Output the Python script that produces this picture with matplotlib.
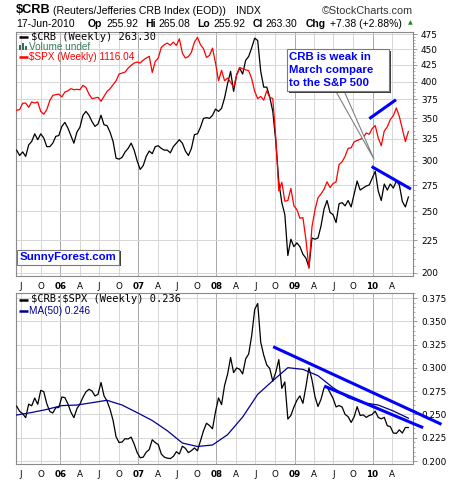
import numpy as np
import pandas as pd
import matplotlib
matplotlib.use('Agg')
import matplotlib.pyplot as plt
from matplotlib.ticker import FixedLocator, FuncFormatter
from matplotlib.patches import Rectangle
from matplotlib.lines import Line2D

W, H = 460, 482

# ---------------- data (bi-weekly samples) ----------------
start_date = '2005-06-10'
end_date = '2010-06-18'

crb = [312, 306, 310, 305, 318, 322, 331, 324, 331, 326,
       316, 316, 320, 328, 329, 340, 345, 338, 329, 320,
       333, 339, 354, 359, 354, 346, 340, 343, 354, 342,
       341, 333, 322, 303, 302, 304, 310, 314, 320, 312,
       300, 291, 295, 305, 311, 308, 316, 317, 314, 312,
       312, 309, 316, 320, 324, 320, 311, 306, 314, 330,
       331, 339, 350, 351, 350, 354, 362, 359, 363, 377,
       397, 415, 386, 410, 420, 411, 432, 438, 452, 468,
       464, 415, 392, 392, 378, 359, 322, 278, 258, 247,
       213, 226, 220, 223, 220, 214, 211, 204, 227, 226,
       227, 237, 252, 260, 249, 247, 240, 257, 258, 255,
       260, 254, 266, 279, 270, 272, 274, 275, 282, 289,
       269, 260, 276, 270, 276, 272, 279, 275, 259, 254,
       263.30]

spx = [1205, 1208, 1236, 1237, 1218, 1242, 1237, 1242, 1200, 1188,
       1208, 1248, 1272, 1275, 1278, 1265, 1287, 1293, 1303, 1298,
       1300, 1298, 1319, 1309, 1278, 1257, 1260, 1263, 1245, 1267,
       1290, 1303, 1322, 1341, 1374, 1379, 1384, 1404, 1418, 1430,
       1435, 1430, 1445, 1456, 1465, 1382, 1438, 1456, 1513, 1528,
       1537, 1525, 1542, 1524, 1561, 1482, 1456, 1464, 1487, 1542,
       1569, 1528, 1506, 1459, 1470, 1509, 1430, 1341, 1393, 1341,
       1354, 1334, 1309, 1367, 1407, 1400, 1395, 1391, 1351, 1290,
       1257, 1267, 1250, 1293, 1263, 1257, 1090, 900, 928, 867,
       869, 908, 853, 841, 815, 817, 754, 680, 790, 840,
       878, 890, 905, 930, 911, 924, 930, 990, 1000, 1020,
       1050, 1052, 1075, 1080, 1085, 1090, 1110, 1105, 1128, 1140,
       1090, 1060, 1118, 1135, 1165, 1182, 1215, 1178, 1126, 1076,
       1116.04]

# 50-week moving average of the ratio, read every 5th sample
ma50 = [0.2494, 0.2521, 0.2554, 0.2595, 0.2601, 0.2626, 0.2652, 0.2601, 0.2519,
        0.2435, 0.2325, 0.2193, 0.2156, 0.2172, 0.2283, 0.2472, 0.2716, 0.2862,
        0.3002, 0.2984, 0.2916, 0.2787, 0.2680, 0.2626, 0.2601, 0.2537, 0.2460]

crb_ticks = [200, 225, 250, 275, 300, 325, 350, 375, 400, 425, 450, 475]
ratio_ticks = [0.200, 0.225, 0.250, 0.275, 0.300, 0.325, 0.350, 0.375]

# hand-drawn trend lines
spx_trend_dates = ['2009-12-17', '2010-04-21']
spx_trend_vals = [1169, 1252]
crb_trend_dates = ['2009-12-28', '2010-06-30']
crb_trend_vals = [294, 271]
ratio_trend1_dates = ['2008-09-23', '2010-11-20']
ratio_trend1_vals = [0.3227, 0.2394]
ratio_trend2_dates = ['2009-05-20', '2010-08-26']
ratio_trend2_vals = [0.2805, 0.2358]
callout_tip = ('2010-01-08', 302)

# ---------------- derived ----------------
n = len(crb)
dates = pd.to_datetime(np.linspace(pd.Timestamp(start_date).value,
                                   pd.Timestamp(end_date).value, n))
crb_a = np.array(crb, float)
spx_a = np.array(spx, float)
ratio = crb_a / spx_a
ma_dates = dates[::5]

SPX_SCALE = 3.343
XMIN, XMAX = pd.Timestamp('2005-06-07'), pd.Timestamp('2010-07-11')

GRID = '#d6d6d6'
YEARGRID = '#a8a8a8'
SPINE = '#8a8a8a'
BLUE = '#0000ff'

fig = plt.figure(figsize=(W / 100, H / 100), dpi=100)
fig.patch.set_facecolor('white')


def fx(x):
    return x / W


def fy(y):
    return 1 - y / H


ax1 = fig.add_axes([fx(16), fy(276), 397.3 / W, 244 / H])
ax2 = fig.add_axes([fx(16), fy(464), 397.3 / W, 171.3 / H])

qticks = pd.date_range('2005-07-01', '2010-04-01', freq='QS')
qlabels = [(d.strftime('%y') if d.month == 1 else d.strftime('%b')[0]) for d in qticks]


def style_axis(ax):
    ax.set_xlim(XMIN, XMAX)
    for s in ax.spines.values():
        s.set_color(SPINE)
        s.set_linewidth(0.8)
    ax.yaxis.tick_right()
    ax.yaxis.set_label_position('right')
    ax.tick_params(axis='y', which='major', direction='out', length=3, width=0.6,
                   color=SPINE, labelsize=6.4, pad=2.5, left=False, labelleft=False,
                   right=True, labelright=True)
    ax.tick_params(axis='y', which='minor', direction='out', length=1.5, width=0.5,
                   color=SPINE, left=False, right=True)
    ax.grid(axis='y', which='major', color=GRID, lw=0.7)
    for d in qticks:
        ax.axvline(d, color=YEARGRID if d.month == 1 else GRID, lw=0.7, zorder=0.5)
    ax.set_xticks(qticks)
    ax.set_xticklabels(qlabels)
    ax.tick_params(axis='x', length=0, labelsize=6.3, pad=4.5)
    for lab, d in zip(ax.get_xticklabels(), qticks):
        if d.month == 1:
            lab.set_fontweight('bold')
    ax.set_axisbelow(True)


# ---------------- top panel ----------------
ax1.set_yscale('log')
ax1.set_ylim(197.8, 478.6)
ax1.plot(dates, crb_a, color='black', lw=0.9, zorder=3)
ax1.plot(pd.to_datetime(crb_trend_dates), crb_trend_vals, color=BLUE, lw=2.2,
         solid_capstyle='butt', zorder=5, clip_on=False)

ax1b = ax1.twinx()
ax1b.set_yscale('log')
lo, hi = ax1.get_ylim()
ax1b.set_ylim(lo * SPX_SCALE, hi * SPX_SCALE)
ax1b.axis('off')
ax1b.plot(dates, spx_a, color='#ff0000', lw=0.9, zorder=3)
ax1b.plot(pd.to_datetime(spx_trend_dates), spx_trend_vals, color=BLUE, lw=2.2,
          solid_capstyle='butt', zorder=5)

ax1.yaxis.set_major_locator(FixedLocator(crb_ticks))
ax1.yaxis.set_major_formatter(FuncFormatter(lambda v, p: f'{v:.0f}'))
ax1.yaxis.set_minor_locator(FixedLocator([v for v in range(200, 480, 5) if v % 25]))
ax1.yaxis.set_minor_formatter(FuncFormatter(lambda v, p: ''))
style_axis(ax1)
ax1b.set_xlim(XMIN, XMAX)

# callout pointer (wedge)
ax1b.annotate('', xy=(pd.Timestamp(callout_tip[0]), callout_tip[1] * SPX_SCALE),
              xycoords='data', xytext=(fx(339.5), fy(90)), textcoords='figure fraction',
              arrowprops=dict(arrowstyle='wedge,tail_width=0.55,shrink_factor=0.5',
                              fc='white', ec='#808080', lw=0.8, shrinkA=0, shrinkB=0))

# ---------------- bottom panel ----------------
ax2.set_ylim(0.1968, 0.3807)
ax2.yaxis.set_major_locator(FixedLocator(ratio_ticks))
ax2.yaxis.set_major_formatter(FuncFormatter(lambda v, p: f'{v:.3f}'))
ax2.yaxis.set_minor_locator(FixedLocator(np.arange(0.195, 0.381, 0.005)))
ax2.yaxis.set_minor_formatter(FuncFormatter(lambda v, p: ''))
style_axis(ax2)
ax2.plot(dates, ratio, color='black', lw=0.9, zorder=3)
ax2.plot(ma_dates, ma50, color='#000090', lw=0.9, zorder=3)
for dd, vv in [(ratio_trend1_dates, ratio_trend1_vals), (ratio_trend2_dates, ratio_trend2_vals)]:
    ax2.plot(pd.to_datetime(dd), vv, color=BLUE, lw=2.2, solid_capstyle='butt',
             zorder=5, clip_on=False)

# ---------------- header ----------------
fig.text(fx(16), fy(10), '\\$CRB', fontsize=9.2, fontweight='bold',
         family='Liberation Sans', va='center', ha='left')
fig.text(fx(53.5), fy(10.5), '(Reuters/Jefferies CRB Index (EOD))', fontsize=7.6,
         family='Liberation Sans', va='center', ha='left')
fig.text(fx(236), fy(10.5), 'INDX', fontsize=7.5, family='Liberation Sans',
         va='center', ha='left')
fig.text(fx(413), fy(10.5), '\u00a9StockCharts.com', fontsize=7.8,
         family='Liberation Sans', va='center', ha='right', color='#333333')

row2 = [(16, '17-Jun-2010', 'normal'), (88, 'Op', 'bold'), (106, '255.92', 'normal'),
        (145, 'Hi', 'bold'), (158, '265.08', 'normal'), (197, 'Lo', 'bold'),
        (213, '255.92', 'normal'), (253, 'Cl', 'bold'), (265, '263.30', 'normal'),
        (306, 'Chg', 'bold'), (330, '+7.38 (+2.88%)', 'normal')]
for x, t, w in row2:
    fig.text(fx(x), fy(24), t, fontsize=7.5, fontweight=w, family='Liberation Sans',
             va='center', ha='left')
fig.text(fx(410), fy(23), '\u25b2', fontsize=4.5, color='#1a8a1a', va='center',
         ha='center', family='DejaVu Sans')

# ---------------- legends ----------------
def leg_line(y, color):
    fig.add_artist(Line2D([fx(19), fx(28)], [fy(y), fy(y)], color=color, lw=1.8,
                          solid_capstyle='butt'))


leg_line(36.5, 'black')
fig.text(fx(31), fy(36.5), '\\$CRB (Weekly) 263.30', fontsize=7.5,
         family='DejaVu Sans Mono', va='center', ha='left')
for bx, bh in [(19, 5), (22, 7), (25, 4)]:
    fig.add_artist(Rectangle((fx(bx), fy(50)), 2 / W, bh / H, transform=fig.transFigure,
                             color='#3a6e52', lw=0))
fig.text(fx(29), fy(46.5), 'Volume undef', fontsize=7.2, family='Liberation Sans',
         va='center', ha='left', color='#3a7a58')
leg_line(56.5, '#ff0000')
fig.text(fx(29), fy(56.5), '\\$SPX (Weekly) 1116.04', fontsize=7.2,
         family='Liberation Sans', va='center', ha='left', color='#ff0000')

leg_line(299.5, 'black')
fig.text(fx(31), fy(299.5), '\\$CRB:\\$SPX (Weekly) 0.236', fontsize=7.5,
         family='DejaVu Sans Mono', va='center', ha='left')
leg_line(310.5, '#000090')
fig.text(fx(29), fy(310.5), 'MA(50) 0.246', fontsize=7.2, family='Liberation Sans',
         va='center', ha='left', color='#000090')

# ---------------- callout box ----------------
def box(x0, y0, x1, y1, shadow=2):
    fig.add_artist(Rectangle((fx(x0 + shadow), fy(y1 + shadow)), (x1 - x0) / W,
                             (y1 - y0) / H, transform=fig.transFigure,
                             fc='#3c3c3c', ec='none', zorder=6))
    fig.add_artist(Rectangle((fx(x0), fy(y1)), (x1 - x0) / W, (y1 - y0) / H,
                             transform=fig.transFigure, fc='white', ec='#7a7a7a',
                             lw=0.8, zorder=7))


box(287.5, 49.5, 389, 91)
for yy, t in [(57, 'CRB is weak in'), (70.3, 'March compare'), (83.5, 'to the S&P 500')]:
    fig.text(fx(289.5), fy(yy), t, fontsize=8.2, fontweight='bold',
             family='Liberation Sans', color=BLUE, va='center', ha='left', zorder=8)

box(17.3, 249.7, 119.5, 264.5, shadow=1.5)
fig.text(fx(68.4), fy(257.2), 'SunnyForest.com', fontsize=8.2, fontweight='bold',
         family='Liberation Sans', color=BLUE, va='center', ha='center', zorder=8)

fig.savefig('out.png', dpi=100, facecolor='white')
